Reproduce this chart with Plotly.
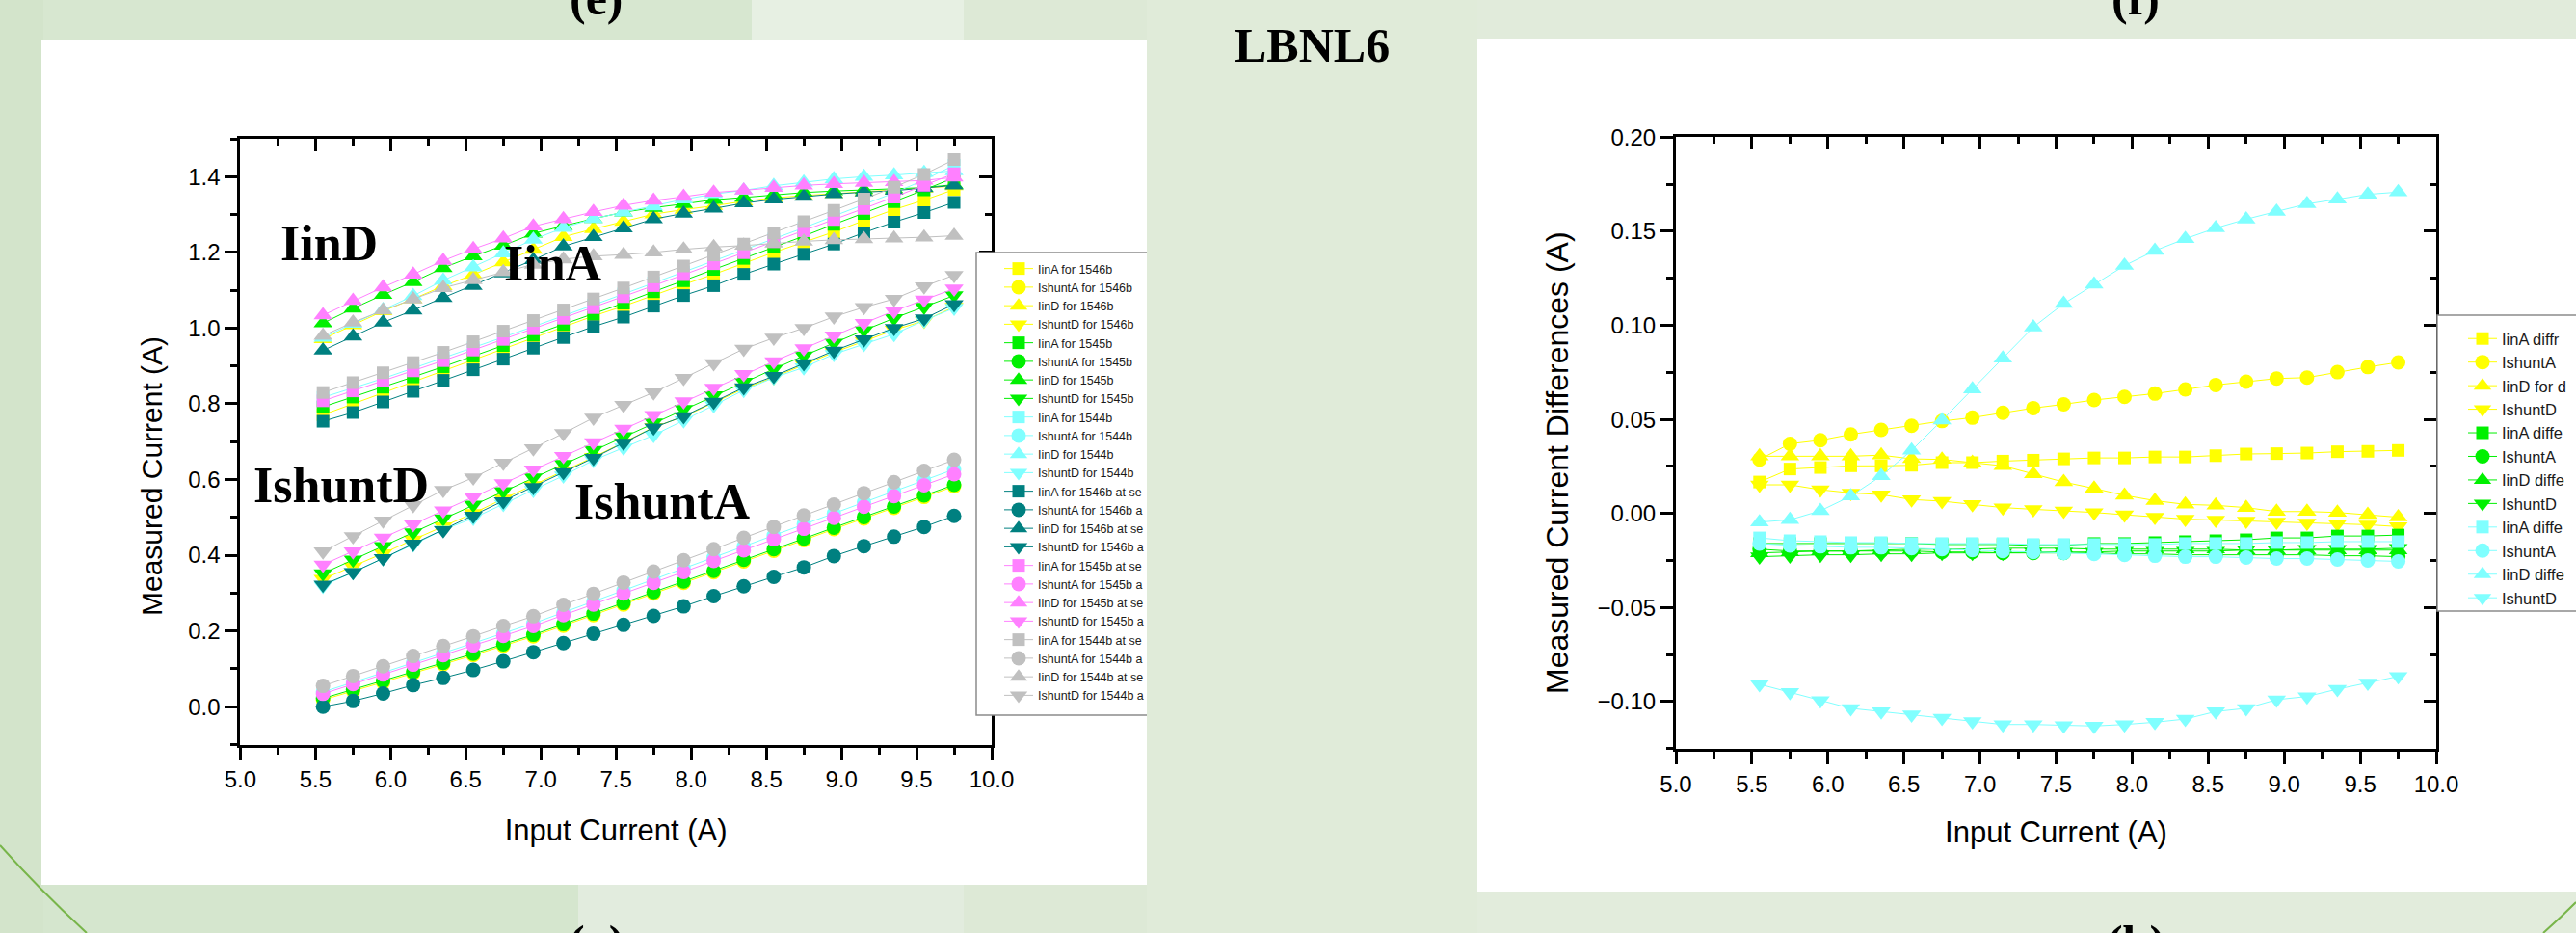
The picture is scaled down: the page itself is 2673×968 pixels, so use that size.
import plotly.graph_objects as go

W, H = 2673, 968

# ---------------- data ----------------
X = [5.55, 5.75, 5.95, 6.15, 6.35, 6.55, 6.75, 6.95, 7.15, 7.35, 7.55,
     7.75, 7.95, 8.15, 8.35, 8.55, 8.75, 8.95, 9.15, 9.35, 9.55, 9.75]

# (e) measured currents
IINA_1546B = [0.771, 0.801, 0.829, 0.858, 0.887, 0.916, 0.945, 0.974, 1.003, 1.032, 1.058, 1.087, 1.115, 1.142, 1.172, 1.200, 1.227, 1.254, 1.284, 1.313, 1.338, 1.366]
ISHA_1546B = [0.018, 0.041, 0.064, 0.088, 0.112, 0.136, 0.161, 0.186, 0.214, 0.242, 0.270, 0.299, 0.327, 0.355, 0.384, 0.412, 0.440, 0.469, 0.497, 0.525, 0.554, 0.582]
IIND_1546B = [0.971, 1.008, 1.045, 1.077, 1.111, 1.141, 1.174, 1.207, 1.241, 1.262, 1.281, 1.301, 1.313, 1.323, 1.335, 1.344, 1.350, 1.355, 1.360, 1.364, 1.369, 1.375]
ISHD_1546B = [0.337, 0.370, 0.405, 0.441, 0.476, 0.511, 0.549, 0.585, 0.622, 0.659, 0.698, 0.738, 0.766, 0.803, 0.840, 0.870, 0.903, 0.936, 0.965, 0.995, 1.019, 1.056]

IINA_1545B = [0.792, 0.818, 0.844, 0.871, 0.898, 0.926, 0.954, 0.982, 1.010, 1.037, 1.066, 1.096, 1.125, 1.155, 1.184, 1.214, 1.243, 1.274, 1.303, 1.334, 1.365, 1.397]
ISHA_1545B = [0.022, 0.045, 0.068, 0.092, 0.116, 0.140, 0.165, 0.190, 0.218, 0.246, 0.274, 0.303, 0.331, 0.359, 0.388, 0.416, 0.444, 0.473, 0.501, 0.529, 0.558, 0.586]
IIND_1545B = [1.013, 1.052, 1.088, 1.122, 1.159, 1.190, 1.218, 1.250, 1.270, 1.289, 1.306, 1.318, 1.328, 1.339, 1.345, 1.352, 1.358, 1.362, 1.365, 1.367, 1.371, 1.379]
ISHD_1545B = [0.352, 0.388, 0.424, 0.460, 0.497, 0.533, 0.569, 0.605, 0.641, 0.678, 0.714, 0.750, 0.786, 0.822, 0.858, 0.892, 0.927, 0.961, 0.994, 1.026, 1.056, 1.086]

IINA_1544B = [0.817, 0.842, 0.867, 0.894, 0.921, 0.948, 0.976, 1.004, 1.032, 1.061, 1.090, 1.119, 1.148, 1.177, 1.206, 1.235, 1.265, 1.296, 1.326, 1.357, 1.391, 1.430]
ISHA_1544B = [0.039, 0.064, 0.090, 0.116, 0.142, 0.168, 0.194, 0.220, 0.249, 0.278, 0.307, 0.336, 0.365, 0.394, 0.423, 0.452, 0.482, 0.510, 0.540, 0.569, 0.598, 0.627]
IIND_1544B = [0.975, 1.012, 1.048, 1.085, 1.126, 1.161, 1.198, 1.234, 1.265, 1.289, 1.306, 1.322, 1.340, 1.354, 1.364, 1.376, 1.385, 1.394, 1.400, 1.404, 1.410, 1.415]
ISHD_1544B = [0.319, 0.355, 0.392, 0.428, 0.467, 0.498, 0.535, 0.572, 0.610, 0.651, 0.684, 0.717, 0.756, 0.796, 0.836, 0.869, 0.896, 0.931, 0.958, 0.984, 1.020, 1.053]

IINA_1546B_S = [0.754, 0.777, 0.805, 0.833, 0.862, 0.890, 0.918, 0.947, 0.975, 1.004, 1.029, 1.058, 1.086, 1.112, 1.142, 1.169, 1.195, 1.222, 1.252, 1.280, 1.305, 1.332]
ISHA_1546B_S = [0.000, 0.015, 0.035, 0.057, 0.076, 0.097, 0.120, 0.144, 0.168, 0.193, 0.216, 0.240, 0.265, 0.292, 0.318, 0.343, 0.368, 0.398, 0.424, 0.449, 0.475, 0.504]
IIND_1546B_S = [0.941, 0.978, 1.015, 1.047, 1.080, 1.112, 1.145, 1.180, 1.216, 1.241, 1.264, 1.288, 1.303, 1.316, 1.330, 1.340, 1.347, 1.354, 1.359, 1.363, 1.370, 1.377]
ISHD_1546B_S = [0.322, 0.355, 0.392, 0.430, 0.466, 0.504, 0.542, 0.580, 0.619, 0.657, 0.697, 0.737, 0.767, 0.805, 0.843, 0.873, 0.907, 0.940, 0.970, 1.000, 1.025, 1.063]

IINA_1545B_S = [0.808, 0.834, 0.860, 0.887, 0.914, 0.942, 0.970, 0.998, 1.026, 1.054, 1.083, 1.112, 1.141, 1.170, 1.199, 1.228, 1.257, 1.287, 1.316, 1.346, 1.377, 1.408]
ISHA_1545B_S = [0.034, 0.060, 0.085, 0.111, 0.136, 0.162, 0.187, 0.213, 0.242, 0.270, 0.299, 0.327, 0.356, 0.385, 0.413, 0.442, 0.470, 0.499, 0.528, 0.556, 0.585, 0.614]
IIND_1545B_S = [1.034, 1.072, 1.108, 1.142, 1.178, 1.209, 1.237, 1.269, 1.288, 1.307, 1.324, 1.337, 1.347, 1.358, 1.364, 1.371, 1.377, 1.381, 1.384, 1.386, 1.390, 1.398]
ISHD_1545B_S = [0.375, 0.410, 0.446, 0.482, 0.518, 0.554, 0.590, 0.626, 0.662, 0.698, 0.734, 0.770, 0.806, 0.842, 0.878, 0.912, 0.946, 0.980, 1.013, 1.045, 1.075, 1.104]

IINA_1544B_S = [0.830, 0.856, 0.882, 0.909, 0.936, 0.964, 0.992, 1.020, 1.048, 1.077, 1.106, 1.135, 1.164, 1.193, 1.222, 1.251, 1.281, 1.311, 1.341, 1.372, 1.406, 1.445]
ISHA_1544B_S = [0.055, 0.081, 0.107, 0.134, 0.160, 0.186, 0.213, 0.239, 0.269, 0.298, 0.328, 0.357, 0.387, 0.416, 0.446, 0.475, 0.505, 0.534, 0.564, 0.593, 0.623, 0.652]
IIND_1544B_S = [0.980, 1.015, 1.047, 1.076, 1.106, 1.127, 1.148, 1.168, 1.182, 1.190, 1.194, 1.200, 1.208, 1.214, 1.218, 1.224, 1.229, 1.233, 1.235, 1.237, 1.240, 1.244]
ISHD_1544B_S = [0.410, 0.450, 0.491, 0.532, 0.572, 0.605, 0.644, 0.682, 0.722, 0.763, 0.797, 0.830, 0.868, 0.907, 0.945, 0.974, 1.000, 1.030, 1.055, 1.077, 1.110, 1.140]

# (f) measured current differences
D_IINA_1546B = [0.0167, 0.0236, 0.0244, 0.0253, 0.0253, 0.0256, 0.0270, 0.0270, 0.0278, 0.0283, 0.0290, 0.0295, 0.0295, 0.0300, 0.0300, 0.0307, 0.0316, 0.0318, 0.0321, 0.0328, 0.0330, 0.0335]
D_ISHA_1546B = [0.0287, 0.0370, 0.0389, 0.0420, 0.0444, 0.0466, 0.0491, 0.0509, 0.0535, 0.0560, 0.0580, 0.0603, 0.0620, 0.0637, 0.0659, 0.0683, 0.0700, 0.0717, 0.0722, 0.0751, 0.0778, 0.0803]
D_IIND_1546B = [0.0304, 0.0304, 0.0304, 0.0304, 0.0310, 0.0290, 0.0287, 0.0270, 0.0253, 0.0210, 0.0167, 0.0133, 0.0096, 0.0068, 0.0048, 0.0043, 0.0031, 0.0010, 0.0010, 0.0005, -0.0007, -0.0020]
D_ISHD_1546B = [0.0152, 0.0152, 0.0126, 0.0109, 0.0100, 0.0074, 0.0065, 0.0048, 0.0031, 0.0022, 0.0014, 0.0005, -0.0007, -0.0020, -0.0030, -0.0035, -0.0040, -0.0045, -0.0050, -0.0055, -0.0060, -0.0070]
D_IINA_1545B = [-0.0160, -0.0160, -0.0160, -0.0160, -0.0160, -0.0160, -0.0165, -0.0165, -0.0165, -0.0170, -0.0170, -0.0160, -0.0160, -0.0155, -0.0150, -0.0145, -0.0140, -0.0130, -0.0130, -0.0120, -0.0120, -0.0115]
D_ISHA_1545B = [-0.0190, -0.0200, -0.0200, -0.0200, -0.0200, -0.0200, -0.0205, -0.0205, -0.0210, -0.0210, -0.0210, -0.0210, -0.0215, -0.0215, -0.0220, -0.0220, -0.0220, -0.0220, -0.0220, -0.0225, -0.0225, -0.0230]
D_IIND_1545B = [-0.0210, -0.0205, -0.0200, -0.0200, -0.0195, -0.0190, -0.0190, -0.0190, -0.0185, -0.0185, -0.0185, -0.0190, -0.0190, -0.0190, -0.0190, -0.0190, -0.0195, -0.0195, -0.0195, -0.0195, -0.0195, -0.0195]
D_ISHD_1545B = [-0.0230, -0.0225, -0.0220, -0.0220, -0.0215, -0.0215, -0.0210, -0.0210, -0.0210, -0.0205, -0.0205, -0.0205, -0.0200, -0.0200, -0.0200, -0.0200, -0.0195, -0.0195, -0.0190, -0.0190, -0.0190, -0.0185]
D_IINA_1544B = [-0.0130, -0.0145, -0.0150, -0.0155, -0.0155, -0.0160, -0.0160, -0.0160, -0.0160, -0.0165, -0.0165, -0.0165, -0.0165, -0.0165, -0.0160, -0.0160, -0.0160, -0.0155, -0.0155, -0.0150, -0.0150, -0.0150]
D_ISHA_1544B = [-0.0160, -0.0170, -0.0175, -0.0180, -0.0180, -0.0185, -0.0190, -0.0195, -0.0200, -0.0205, -0.0210, -0.0215, -0.0220, -0.0225, -0.0230, -0.0230, -0.0235, -0.0240, -0.0240, -0.0245, -0.0250, -0.0255]
D_IIND_1544B = [-0.0046, -0.0034, 0.0014, 0.0092, 0.0199, 0.0335, 0.0495, 0.0660, 0.0825, 0.0990, 0.1115, 0.1218, 0.1317, 0.1397, 0.1460, 0.1517, 0.1564, 0.1605, 0.1645, 0.1670, 0.1696, 0.1708]
D_ISHD_1544B = [-0.0908, -0.0950, -0.0994, -0.1036, -0.1053, -0.1070, -0.1088, -0.1105, -0.1122, -0.1122, -0.1127, -0.1130, -0.1122, -0.1110, -0.1093, -0.1053, -0.1036, -0.0990, -0.0973, -0.0934, -0.0900, -0.0866]

LEFT_NAMES = ["IinA for 1546b", "IshuntA for 1546b", "IinD for 1546b", "IshuntD for 1546b",
              "IinA for 1545b", "IshuntA for 1545b", "IinD for 1545b", "IshuntD for 1545b",
              "IinA for 1544b", "IshuntA for 1544b", "IinD for 1544b", "IshuntD for 1544b",
              "IinA for 1546b at se", "IshuntA for 1546b a", "IinD for 1546b at se", "IshuntD for 1546b a",
              "IinA for 1545b at se", "IshuntA for 1545b a", "IinD for 1545b at se", "IshuntD for 1545b a",
              "IinA for 1544b at se", "IshuntA for 1544b a", "IinD for 1544b at se", "IshuntD for 1544b a"]
LEFT_VALUES = [IINA_1546B, ISHA_1546B, IIND_1546B, ISHD_1546B,
               IINA_1545B, ISHA_1545B, IIND_1545B, ISHD_1545B,
               IINA_1544B, ISHA_1544B, IIND_1544B, ISHD_1544B,
               IINA_1546B_S, ISHA_1546B_S, IIND_1546B_S, ISHD_1546B_S,
               IINA_1545B_S, ISHA_1545B_S, IIND_1545B_S, ISHD_1545B_S,
               IINA_1544B_S, ISHA_1544B_S, IIND_1544B_S, ISHD_1544B_S]

RIGHT_NAMES = ["IinA diffr", "IshuntA", "IinD for d", "IshuntD",
               "IinA diffe", "IshuntA", "IinD diffe", "IshuntD",
               "IinA diffe", "IshuntA", "IinD diffe", "IshuntD"]
RIGHT_VALUES = [D_IINA_1546B, D_ISHA_1546B, D_IIND_1546B, D_ISHD_1546B,
                D_IINA_1545B, D_ISHA_1545B, D_IIND_1545B, D_ISHD_1545B,
                D_IINA_1544B, D_ISHA_1544B, D_IIND_1544B, D_ISHD_1544B]

# ---------------- styles ----------------
YELLOW, GREEN, CYAN = "#FFFF00", "#00F000", "#80FFFF"
TEAL, VIOLET, GRAY = "#008080", "#FF80FF", "#C0C0C0"
LEFT_COLORS = [YELLOW, GREEN, CYAN, TEAL, VIOLET, GRAY]
RIGHT_COLORS = [YELLOW, GREEN, CYAN]
SYMBOLS = ["square", "circle", "triangle-up", "triangle-down"]
SIZES = {"square": 13, "circle": 15, "triangle-up": 17, "triangle-down": 17}

SANS = "Liberation Sans, Arial, sans-serif"
SERIF = "Liberation Serif, Times New Roman, serif"


def px(x):
    return x / W


def py(y):
    return 1 - y / H


fig = go.Figure()

for i, (name, vals) in enumerate(zip(LEFT_NAMES, LEFT_VALUES)):
    col = LEFT_COLORS[i // 4]
    sym = SYMBOLS[i % 4]
    fig.add_trace(go.Scatter(
        x=X, y=vals, name=name, mode="lines+markers",
        xaxis="x", yaxis="y", legend="legend",
        line=dict(color=col, width=1),
        marker=dict(symbol=sym, size=SIZES[sym], color=col, line=dict(width=0)),
    ))

for i, (name, vals) in enumerate(zip(RIGHT_NAMES, RIGHT_VALUES)):
    col = RIGHT_COLORS[i // 4]
    sym = SYMBOLS[i % 4]
    fig.add_trace(go.Scatter(
        x=X, y=vals, name=name, mode="lines+markers",
        xaxis="x2", yaxis="y2", legend="legend2",
        line=dict(color=col, width=1),
        marker=dict(symbol=sym, size=SIZES[sym], color=col, line=dict(width=0)),
    ))

# empty traces to bind the mirror (top/right) frame axes
fig.add_trace(go.Scatter(x=[None], y=[None], xaxis="x3", yaxis="y3", showlegend=False, hoverinfo="skip"))
fig.add_trace(go.Scatter(x=[None], y=[None], xaxis="x4", yaxis="y4", showlegend=False, hoverinfo="skip"))

LW, TW = 3, 2.5


def base_axis(rng, dtick, tick0, mdtick, ticks, labels, fmt=None, fsize=24):
    d = dict(range=rng, dtick=dtick, tick0=tick0, tickmode="linear",
             showline=True, linewidth=LW, linecolor="black",
             ticks=ticks, ticklen=13, tickwidth=TW, tickcolor="black",
             minor=dict(ticks=ticks, ticklen=7, tickwidth=TW, tickcolor="black",
                        dtick=mdtick, tick0=tick0, showgrid=False),
             showgrid=False, zeroline=False, showticklabels=labels,
             tickfont=dict(family=SANS, size=fsize, color="black"),
             fixedrange=True)
    if fmt:
        d["tickformat"] = fmt
    return d


L_DOM_X = [px(249.4), px(1029.0)]
L_DOM_Y = [py(772.5), py(144.0)]
R_DOM_X = [px(1739.0), px(2528.0)]
R_DOM_Y = [py(776.7), py(142.3)]

xaxis = base_axis([5, 10], 0.5, 5, 0.25, "outside", True, ".1f", 24)
xaxis.update(domain=L_DOM_X, anchor="y",
             title=dict(text="Input Current (A)", font=dict(family=SANS, size=31, color="black"), standoff=30))
yaxis = base_axis([-0.1, 1.5], 0.2, 0, 0.1, "outside", True, ".1f", 24)
yaxis.update(domain=L_DOM_Y, anchor="x")
xaxis3 = base_axis([5, 10], 0.5, 5, 0.25, "inside", False)
xaxis3.update(overlaying="x", side="top", anchor="y")
yaxis3 = base_axis([-0.1, 1.5], 0.2, 0, 0.1, "inside", False)
yaxis3.update(overlaying="y", side="right", anchor="x")

xaxis2 = base_axis([5, 10], 0.5, 5, 0.25, "outside", True, ".1f", 24)
xaxis2.update(domain=R_DOM_X, anchor="y2",
              title=dict(text="Input Current (A)", font=dict(family=SANS, size=31, color="black"), standoff=27))
yaxis2 = base_axis([-0.125, 0.2], 0.05, 0, 0.025, "outside", True, ".2f", 24)
yaxis2.update(domain=R_DOM_Y, anchor="x2")
xaxis4 = base_axis([5, 10], 0.5, 5, 0.25, "inside", False)
xaxis4.update(overlaying="x2", side="top", anchor="y2")
yaxis4 = base_axis([-0.125, 0.2], 0.05, 0, 0.025, "inside", False)
yaxis4.update(overlaying="y2", side="right", anchor="x2")

# ---------------- decorations ----------------
shapes = []
# soft background bands of the slide
for (x0, y0, x1, y1, c) in [
    (0, 0, 45, 968, "#d3e4cb"),
    (45, 0, 780, 42, "#d7e7d0"),
    (780, 0, 1000, 42, "#e7f0e3"),
    (1190, 0, 1533, 968, "#e0ebd9"),
    (45, 918, 600, 968, "#d5e6ce"),
    (600, 918, 1000, 968, "#e2ecde"),
    (1533, 925, 2673, 968, "#e2ecdc"),
    (1533, 0, 2673, 40, "#e1ebdb"),
]:
    shapes.append(dict(type="rect", xref="paper", yref="paper", x0=px(x0), x1=px(x1),
                       y0=py(y1), y1=py(y0), fillcolor=c, line=dict(width=0), layer="below"))
# white chart panels
shapes.append(dict(type="rect", xref="paper", yref="paper", x0=px(43), x1=px(1190), y0=py(918), y1=py(42),
                   fillcolor="white", line=dict(width=0), layer="below"))
shapes.append(dict(type="rect", xref="paper", yref="paper", x0=px(1533), x1=px(2673), y0=py(925), y1=py(40),
                   fillcolor="white", line=dict(width=0), layer="below"))
# decorative green arcs
shapes.append(dict(type="path", xref="paper", yref="paper",
                   path=f"M {px(0)},{py(877)} Q {px(40)},{py(922)} {px(90)},{py(968)}",
                   line=dict(color="#78b54a", width=2), layer="below"))
shapes.append(dict(type="path", xref="paper", yref="paper",
                   path=f"M {px(2673)},{py(936)} Q {px(2657)},{py(952)} {px(2639)},{py(968)}",
                   line=dict(color="#78b54a", width=2), layer="below"))
# legend frames (cut off on their right side, as in the slide)
shapes.append(dict(type="path", xref="paper", yref="paper",
                   path=f"M {px(1190)},{py(262)} L {px(1013)},{py(262)} L {px(1013)},{py(742)} L {px(1190)},{py(742)}",
                   fillcolor="white", line=dict(color="#8c8c8c", width=1.5), layer="above"))
shapes.append(dict(type="path", xref="paper", yref="paper",
                   path=f"M {px(2673)},{py(327)} L {px(2529)},{py(327)} L {px(2529)},{py(634)} L {px(2673)},{py(634)}",
                   fillcolor="white", line=dict(color="#8c8c8c", width=1.5), layer="above"))

annotations = []
for txt, xv, yv in [("IinD", 5.59, 1.225), ("IinA", 7.08, 1.170),
                    ("IshuntD", 5.67, 0.585), ("IshuntA", 7.81, 0.542)]:
    annotations.append(dict(text=txt, x=xv, y=yv, xref="x", yref="y", showarrow=False,
                            xanchor="center", yanchor="middle",
                            font=dict(family=SERIF, size=52, color="black", weight="bold")))
# y axis titles (placed as in the slide, slightly below the axis centre)
annotations.append(dict(text="Measured Current (A)", x=px(157), y=py(494), xref="paper", yref="paper",
                        showarrow=False, textangle=-90, xanchor="center", yanchor="middle",
                        font=dict(family=SANS, size=30, color="black")))
annotations.append(dict(text="Measured Current Differences (A)", x=px(1616), y=py(480), xref="paper", yref="paper",
                        showarrow=False, textangle=-90, xanchor="center", yanchor="middle",
                        font=dict(family=SANS, size=32, color="black")))
annotations.append(dict(text="LBNL6", x=px(1361), y=py(47), xref="paper", yref="paper", showarrow=False,
                        xanchor="center", yanchor="middle",
                        font=dict(family=SERIF, size=50, color="black", weight="bold")))
for txt, xc in [("(e)", 619), ("(f)", 2216)]:
    annotations.append(dict(text=txt, x=px(xc), y=py(28), xref="paper", yref="paper", showarrow=False,
                            xanchor="center", yanchor="bottom",
                            font=dict(family=SERIF, size=50, color="black", weight="bold")))
for txt, xc in [("(a)", 619), ("(b)", 2216)]:
    annotations.append(dict(text=txt, x=px(xc), y=py(948), xref="paper", yref="paper", showarrow=False,
                            xanchor="center", yanchor="top",
                            font=dict(family=SERIF, size=50, color="black", weight="bold")))

fig.update_layout(
    width=W, height=H,
    margin=dict(l=0, r=0, t=0, b=0, autoexpand=False),
    paper_bgcolor="#dde9d6", plot_bgcolor="rgba(0,0,0,0)",
    font=dict(family=SANS, color="black"),
    xaxis=xaxis, yaxis=yaxis, xaxis2=xaxis2, yaxis2=yaxis2,
    xaxis3=xaxis3, yaxis3=yaxis3, xaxis4=xaxis4, yaxis4=yaxis4,
    legend=dict(x=px(1037), y=py(264), xanchor="left", yanchor="top",
                bgcolor="rgba(0,0,0,0)", borderwidth=0, tracegroupgap=0,
                font=dict(family=SANS, size=12.5, color="#1a1a1a")),
    legend2=dict(x=px(2556), y=py(334), xanchor="left", yanchor="top",
                 bgcolor="rgba(0,0,0,0)", borderwidth=0, tracegroupgap=0,
                 font=dict(family=SANS, size=16.5, color="#1a1a1a")),
    shapes=shapes, annotations=annotations,
    showlegend=True,
)

fig.write_html("out.html", config={"displayModeBar": False},
               post_script="document.body.style.margin='0';document.body.style.overflow='hidden';")
